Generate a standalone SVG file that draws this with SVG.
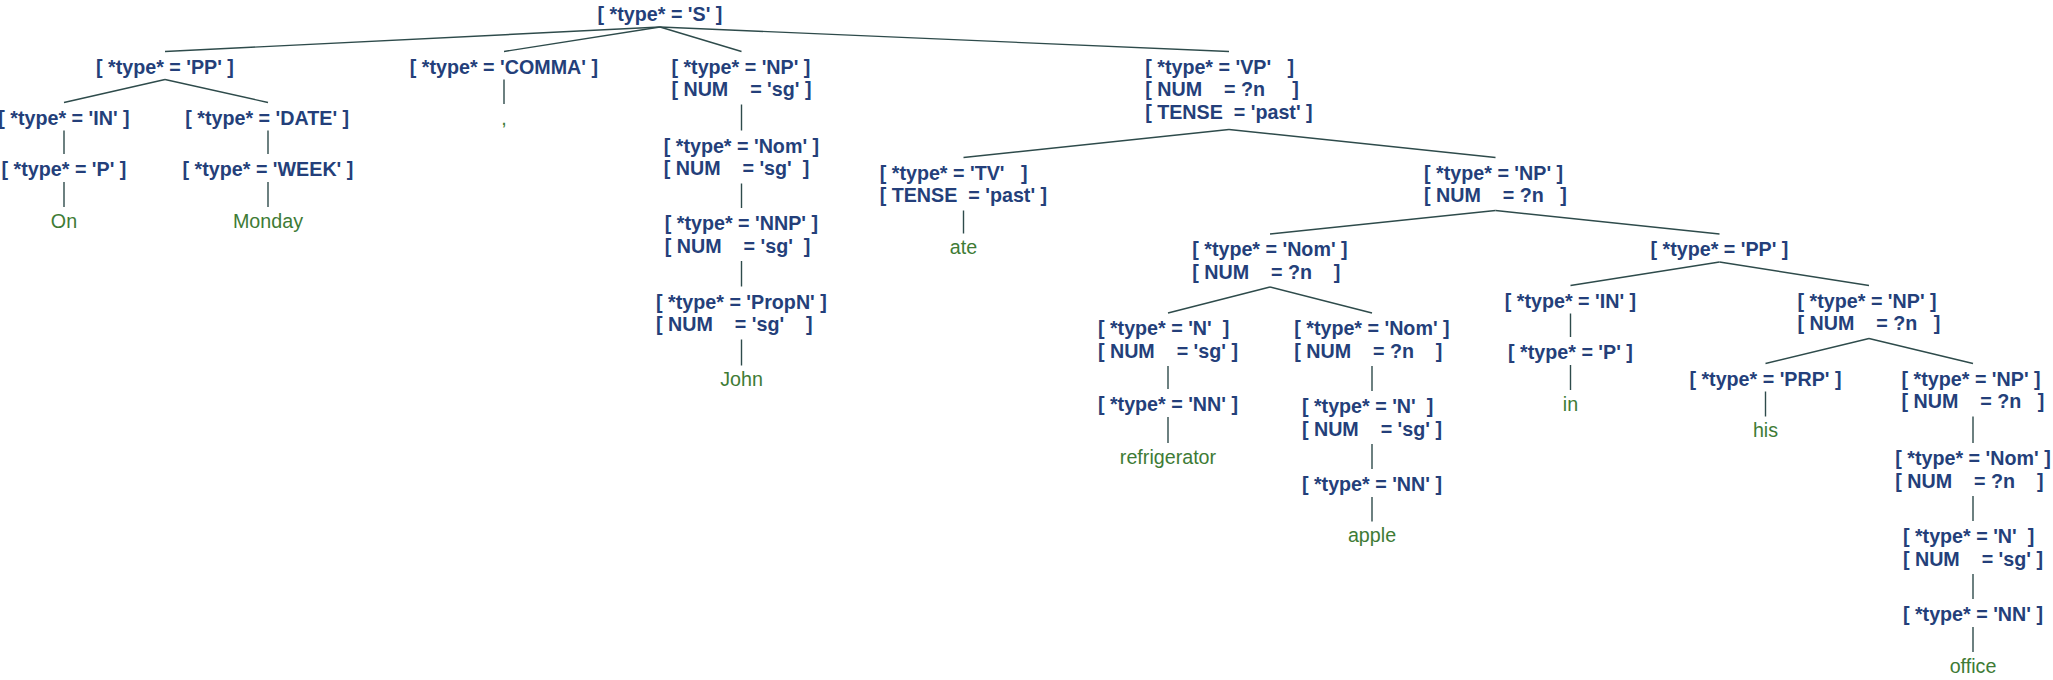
<svg xmlns="http://www.w3.org/2000/svg" width="2053" height="680" viewBox="0 0 2053 680" xml:space="preserve">
<style>
.node text{font-family:"Liberation Sans",Arial,sans-serif;font-weight:bold;font-size:19.7px;fill:#243f7a;white-space:pre;}
.leaf text{font-family:"Liberation Sans",Arial,sans-serif;font-size:19.7px;fill:#3e7b35;text-anchor:middle;white-space:pre;}
#connectors line{stroke:#2e4b4b;stroke-width:1.4;fill:none;}
</style>
<rect width="2053" height="680" fill="#ffffff"/>
<g id="connectors">
<line x1="660" y1="27" x2="165" y2="51.5"/>
<line x1="660" y1="27" x2="504" y2="51.5"/>
<line x1="660" y1="27" x2="741.5" y2="51.5"/>
<line x1="660" y1="27" x2="1229" y2="51.5"/>
<line x1="165" y1="79.5" x2="64" y2="102.5"/>
<line x1="165" y1="79.5" x2="268" y2="102.5"/>
<line x1="64" y1="130.5" x2="64" y2="154"/>
<line x1="64" y1="182" x2="64" y2="207"/>
<line x1="268" y1="130.5" x2="268" y2="154"/>
<line x1="268" y1="182" x2="268" y2="207"/>
<line x1="504" y1="79.5" x2="504" y2="104"/>
<line x1="741.5" y1="104.5" x2="741.5" y2="130.5"/>
<line x1="741.5" y1="183.5" x2="741.5" y2="208"/>
<line x1="741.5" y1="261" x2="741.5" y2="286.5"/>
<line x1="741.5" y1="339.5" x2="741.5" y2="365.5"/>
<line x1="1229" y1="129.5" x2="963.5" y2="157.5"/>
<line x1="1229" y1="129.5" x2="1495.5" y2="157.5"/>
<line x1="963.5" y1="210.5" x2="963.5" y2="233.5"/>
<line x1="1495.5" y1="210.5" x2="1270" y2="234"/>
<line x1="1495.5" y1="210.5" x2="1719.5" y2="234"/>
<line x1="1270" y1="287" x2="1168" y2="313"/>
<line x1="1270" y1="287" x2="1372" y2="313"/>
<line x1="1168" y1="366" x2="1168" y2="389"/>
<line x1="1168" y1="417" x2="1168" y2="443"/>
<line x1="1372" y1="366" x2="1372" y2="391"/>
<line x1="1372" y1="444" x2="1372" y2="469"/>
<line x1="1372" y1="497" x2="1372" y2="521.5"/>
<line x1="1719.5" y1="262" x2="1570.5" y2="285.5"/>
<line x1="1719.5" y1="262" x2="1869" y2="285.5"/>
<line x1="1570.5" y1="313.5" x2="1570.5" y2="337"/>
<line x1="1570.5" y1="365" x2="1570.5" y2="390"/>
<line x1="1869" y1="338.5" x2="1765.5" y2="363.5"/>
<line x1="1869" y1="338.5" x2="1973" y2="363.5"/>
<line x1="1765.5" y1="391.5" x2="1765.5" y2="416.5"/>
<line x1="1973" y1="416.5" x2="1973" y2="443"/>
<line x1="1973" y1="496" x2="1973" y2="521"/>
<line x1="1973" y1="574" x2="1973" y2="599"/>
<line x1="1973" y1="627" x2="1973" y2="652"/>
</g>
<g id="n-S" class="node"><text x="597.6" y="21">[ *type* = 'S' ]</text></g>
<g id="n-PP1" class="node"><text x="96" y="73.5">[ *type* = 'PP' ]</text></g>
<g id="n-COMMA" class="node"><text x="409.8" y="73.5">[ *type* = 'COMMA' ]</text></g>
<g id="n-NP1" class="node"><text x="671.4" y="73.5">[ *type* = 'NP' ]<tspan x="671.4" dy="22.5">[ NUM    = 'sg' ]</tspan></text></g>
<g id="n-VP" class="node"><text x="1145.2" y="73.5">[ *type* = 'VP'   ]<tspan x="1145.2" dy="22.5">[ NUM    = ?n     ]</tspan><tspan x="1145.2" dy="22.5">[ TENSE  = 'past' ]</tspan></text></g>
<g id="n-IN1" class="node"><text x="-1.7" y="124.5">[ *type* = 'IN' ]</text></g>
<g id="n-DATE" class="node"><text x="185.3" y="124.5">[ *type* = 'DATE' ]</text></g>
<g id="l-comma" class="leaf"><text x="504" y="124.5">,</text></g>
<g id="n-Nom1" class="node"><text x="663.7" y="152.5">[ *type* = 'Nom' ]<tspan x="663.7" dy="22.5">[ NUM    = 'sg'  ]</tspan></text></g>
<g id="n-TV" class="node"><text x="879.7" y="179.5">[ *type* = 'TV'   ]<tspan x="879.7" dy="22.5">[ TENSE  = 'past' ]</tspan></text></g>
<g id="n-NP2" class="node"><text x="1424.1" y="179.5">[ *type* = 'NP' ]<tspan x="1424.1" dy="22.5">[ NUM    = ?n   ]</tspan></text></g>
<g id="n-P1" class="node"><text x="1.6" y="176">[ *type* = 'P' ]</text></g>
<g id="n-WEEK" class="node"><text x="182.6" y="176">[ *type* = 'WEEK' ]</text></g>
<g id="n-NNP" class="node"><text x="664.8" y="230">[ *type* = 'NNP' ]<tspan x="664.8" dy="22.5">[ NUM    = 'sg'  ]</tspan></text></g>
<g id="n-PropN" class="node"><text x="656.1" y="308.5">[ *type* = 'PropN' ]<tspan x="656.1" dy="22.5">[ NUM    = 'sg'    ]</tspan></text></g>
<g id="l-On" class="leaf"><text x="64" y="227.5">On</text></g>
<g id="l-Monday" class="leaf"><text x="268" y="227.5">Monday</text></g>
<g id="l-John" class="leaf"><text x="741.5" y="386">John</text></g>
<g id="l-ate" class="leaf"><text x="963.5" y="254">ate</text></g>
<g id="n-Nom2" class="node"><text x="1192.2" y="256">[ *type* = 'Nom' ]<tspan x="1192.2" dy="22.5">[ NUM    = ?n    ]</tspan></text></g>
<g id="n-PP2" class="node"><text x="1650.5" y="256">[ *type* = 'PP' ]</text></g>
<g id="n-N1" class="node"><text x="1097.9" y="335">[ *type* = 'N'  ]<tspan x="1097.9" dy="22.5">[ NUM    = 'sg' ]</tspan></text></g>
<g id="n-Nom3" class="node"><text x="1294.2" y="335">[ *type* = 'Nom' ]<tspan x="1294.2" dy="22.5">[ NUM    = ?n    ]</tspan></text></g>
<g id="n-IN2" class="node"><text x="1504.8" y="307.5">[ *type* = 'IN' ]</text></g>
<g id="n-NP3" class="node"><text x="1797.6" y="307.5">[ *type* = 'NP' ]<tspan x="1797.6" dy="22.5">[ NUM    = ?n   ]</tspan></text></g>
<g id="n-NN1" class="node"><text x="1097.9" y="411">[ *type* = 'NN' ]</text></g>
<g id="n-N2" class="node"><text x="1301.9" y="413">[ *type* = 'N'  ]<tspan x="1301.9" dy="22.5">[ NUM    = 'sg' ]</tspan></text></g>
<g id="n-P2" class="node"><text x="1508.1" y="359">[ *type* = 'P' ]</text></g>
<g id="n-PRP" class="node"><text x="1689.4" y="385.5">[ *type* = 'PRP' ]</text></g>
<g id="n-NP4" class="node"><text x="1901.6" y="385.5">[ *type* = 'NP' ]<tspan x="1901.6" dy="22.5">[ NUM    = ?n   ]</tspan></text></g>
<g id="l-refrigerator" class="leaf"><text x="1168" y="463.5">refrigerator</text></g>
<g id="n-NN2" class="node"><text x="1301.9" y="491">[ *type* = 'NN' ]</text></g>
<g id="l-in" class="leaf"><text x="1570.5" y="410.5">in</text></g>
<g id="l-his" class="leaf"><text x="1765.5" y="437">his</text></g>
<g id="n-Nom4" class="node"><text x="1895.3" y="465">[ *type* = 'Nom' ]<tspan x="1895.3" dy="22.5">[ NUM    = ?n    ]</tspan></text></g>
<g id="l-apple" class="leaf"><text x="1372" y="542">apple</text></g>
<g id="n-N3" class="node"><text x="1902.9" y="543">[ *type* = 'N'  ]<tspan x="1902.9" dy="22.5">[ NUM    = 'sg' ]</tspan></text></g>
<g id="n-NN3" class="node"><text x="1902.9" y="621">[ *type* = 'NN' ]</text></g>
<g id="l-office" class="leaf"><text x="1973" y="672.5">office</text></g>
</svg>
